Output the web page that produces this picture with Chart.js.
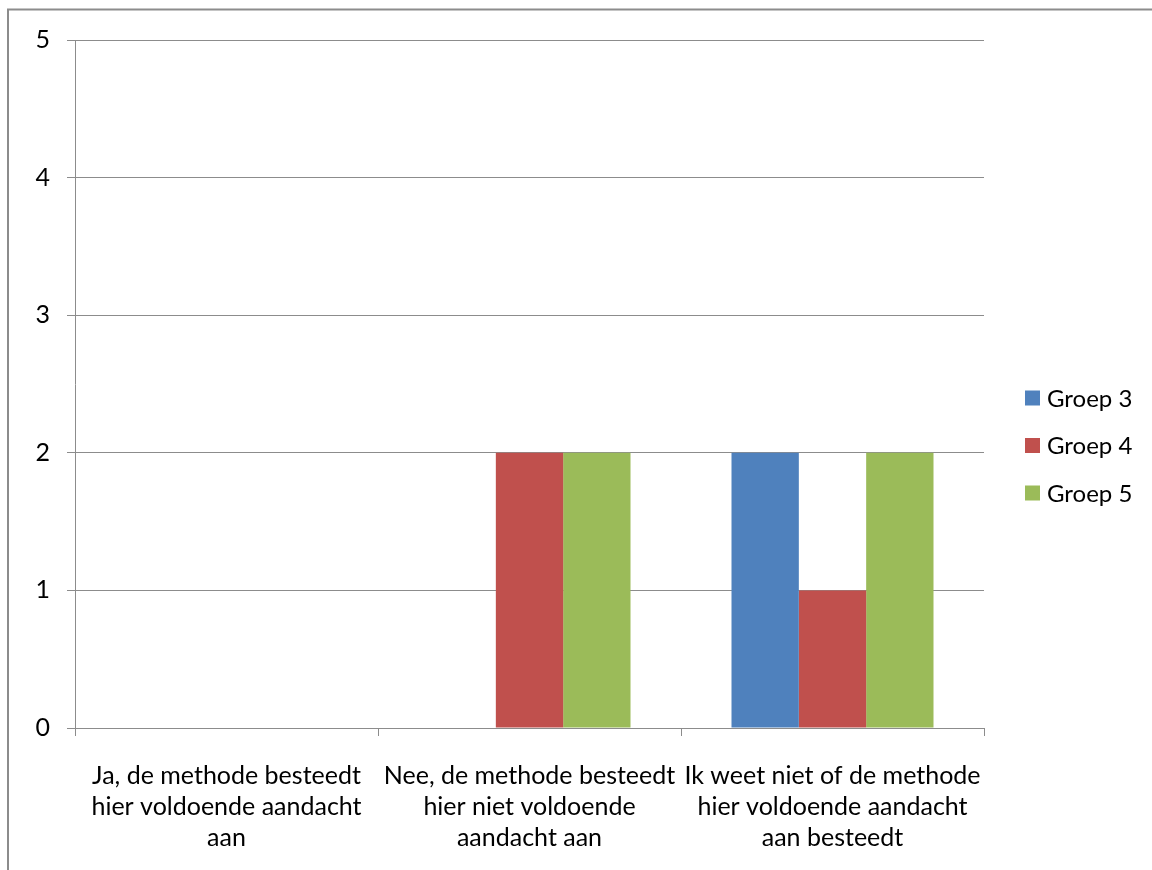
<!DOCTYPE html>
<html>
<head>
<meta charset="utf-8">
<script src="https://cdn.jsdelivr.net/npm/chart.js@4.4.1/dist/chart.umd.min.js"></script>
<style>
  html, body { margin: 0; padding: 0; background: #ffffff; }
  #wrap { width: 1152px; height: 870px; position: relative; }
</style>
</head>
<body>
<div id="wrap"><canvas id="chart" width="1152" height="870"></canvas></div>
<script>
// Answer categories (wrapped onto several lines)
const categories = [
  ["Ja, de methode besteedt", "hier voldoende aandacht", "aan"],
  ["Nee, de methode besteedt", "hier niet voldoende", "aandacht aan"],
  ["Ik weet niet of de methode", "hier voldoende aandacht", "aan besteedt"]
];
const seriesNames = ["Groep 3", "Groep 4", "Groep 5"];
const groep3 = [0, 0, 2];
const groep4 = [0, 2, 1];
const groep5 = [0, 2, 2];
const seriesColors = ["#4F81BD", "#C0504D", "#9BBB59"];
const yTicks = [0, 1, 2, 3, 4, 5];

const FONT = "Lato";
const FONT_SIZE = 25;
const AXIS_GRAY = "#8c8c8c";

// Outer frame of the chart object
const framePlugin = {
  id: "frame",
  beforeDraw(chart) {
    const ctx = chart.ctx;
    ctx.save();
    ctx.strokeStyle = AXIS_GRAY;
    ctx.lineWidth = 2;
    ctx.beginPath();
    ctx.moveTo(8, 880);
    ctx.lineTo(8, 9.5);
    ctx.lineTo(1160, 9.5);
    ctx.stroke();
    ctx.restore();
  }
};

// Legend drawn as a vertical list on the right
const sideLegend = {
  id: "sideLegend",
  afterDraw(chart) {
    const ctx = chart.ctx;
    ctx.save();
    ctx.font = "24px " + FONT;
    ctx.textBaseline = "middle";
    ctx.textAlign = "left";
    chart.data.datasets.forEach((ds, i) => {
      const cy = 398 + i * 47.5;
      ctx.fillStyle = ds.backgroundColor;
      ctx.fillRect(1025, cy - 7.5, 15, 15);
      ctx.fillStyle = "#000";
      ctx.fillText(ds.label, 1047, cy + 1);
    });
    ctx.restore();
  }
};

const datasetValues = [groep3, groep4, groep5];

new Chart(document.getElementById("chart"), {
  type: "bar",
  data: {
    labels: categories,
    datasets: seriesNames.map((name, i) => ({
      label: name,
      data: datasetValues[i],
      backgroundColor: seriesColors[i],
      borderWidth: 0,
      categoryPercentage: 3 / 4.5,
      barPercentage: 1
    }))
  },
  options: {
    responsive: false,
    animation: false,
    devicePixelRatio: 1,
    layout: { padding: { top: 40, right: 168, left: 0, bottom: 0 } },
    plugins: {
      legend: { display: false },
      tooltip: { enabled: false }
    },
    scales: {
      x: {
        offset: true,
        grid: {
          offset: true,
          drawOnChartArea: false,
          drawTicks: true,
          tickLength: 8,
          color: AXIS_GRAY
        },
        border: { color: AXIS_GRAY, width: 1 },
        ticks: {
          color: "#000",
          font: { family: FONT, size: FONT_SIZE, lineHeight: 1.24 },
          padding: 24,
          maxRotation: 0,
          autoSkip: false
        },
        afterFit(scale) { scale.height = 142; }
      },
      y: {
        min: 0,
        max: 5,
        afterBuildTicks(scale) { scale.ticks = yTicks.map(v => ({ value: v })); },
        grid: { color: AXIS_GRAY, tickLength: 8, drawTicks: true },
        border: { color: AXIS_GRAY, width: 1 },
        ticks: {
          color: "#000",
          font: { family: FONT, size: FONT_SIZE },
          padding: 17
        },
        afterFit(scale) { scale.width = 75; }
      }
    }
  },
  plugins: [framePlugin, sideLegend]
});
</script>
</body>
</html>
